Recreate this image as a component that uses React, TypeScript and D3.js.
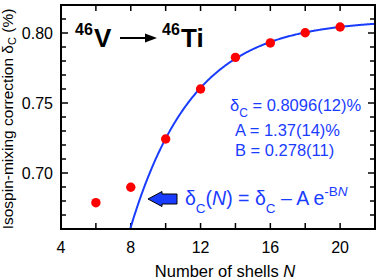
import React from "react";
import * as d3 from "d3";

const shells = [6, 8, 10, 12, 14, 16, 18, 20];
const deltaC = [0.6788, 0.6898, 0.7243, 0.76, 0.7826, 0.7929, 0.8002, 0.8043];
const xTickLabels = [4, 8, 12, 16, 20];
const xTicks = [4, 6, 8, 10, 12, 14, 16, 18, 20, 22];
const yTickLabels = [0.7, 0.75, 0.8];
const yTicks = [0.67, 0.68, 0.69, 0.7, 0.71, 0.72, 0.73, 0.74, 0.75, 0.76, 0.77, 0.78, 0.79, 0.8, 0.81];
const fitDelta = 0.8096;
const fitA = 1.37;
const fitB = 0.278;

const W = 377, H = 278;
const M = { left: 61, top: 5, right: 375, bottom: 229 };
const BLUE = "#1a3cff";
const FONT = "'Liberation Sans', Arial, Helvetica, sans-serif";

export default function App() {
  const x = d3.scaleLinear().domain([4, 22]).range([M.left, M.right]);
  const y = d3.scaleLinear().domain([0.66, 0.82]).range([M.bottom, M.top]);
  const fitX = d3.range(7.9, 22.001, 0.05);
  const line = d3
    .line<number>()
    .x((n) => x(n))
    .y((n) => y(fitDelta - fitA * Math.exp(-fitB * n)));

  return (
    <svg width={W} height={H} style={{ position: "absolute", left: 0, top: 0 }} fontFamily={FONT}>
      <rect x={0} y={0} width={W} height={H} fill="white" />
      <defs>
        <clipPath id="plot">
          <rect x={M.left} y={M.top} width={M.right - M.left} height={M.bottom - M.top} />
        </clipPath>
      </defs>
      {/* ticks */}
      {xTicks.map((t) => (
        <g key={"xt" + t}>
          <line x1={x(t)} x2={x(t)} y1={M.bottom} y2={M.bottom - 6} stroke="black" strokeWidth={1.5} />
          <line x1={x(t)} x2={x(t)} y1={M.top} y2={M.top + 6} stroke="black" strokeWidth={1.5} />
        </g>
      ))}
      {yTicks.map((t) => {
        const major = yTickLabels.some((v) => Math.abs(v - t) < 1e-6);
        const len = major ? 7 : 5;
        return (
          <g key={"yt" + t}>
            <line x1={M.left} x2={M.left + len} y1={y(t)} y2={y(t)} stroke="black" strokeWidth={1.5} />
            <line x1={M.right} x2={M.right - len} y1={y(t)} y2={y(t)} stroke="black" strokeWidth={1.5} />
          </g>
        );
      })}
      {xTickLabels.map((t) => (
        <text key={"xl" + t} x={x(t)} y={252.5} textAnchor="middle" fontSize={16}>
          {t}
        </text>
      ))}
      {yTickLabels.map((t) => (
        <text key={"yl" + t} x={53} y={y(t) + 5.5} textAnchor="end" fontSize={16}>
          {t.toFixed(2)}
        </text>
      ))}
      {/* fit curve */}
      <path d={line(fitX) || ""} fill="none" stroke={BLUE} strokeWidth={2} clipPath="url(#plot)" />
      {/* data */}
      {shells.map((n, i) => (
        <circle key={"p" + n} cx={x(n)} cy={y(deltaC[i])} r={4.7} fill="#ff0000" />
      ))}
      {/* frame */}
      <rect x={M.left} y={M.top} width={M.right - M.left} height={M.bottom - M.top} fill="none" stroke="black" strokeWidth={2} />

      {/* header */}
      <text fontWeight="bold" fill="black">
        <tspan x={75} y={35} fontSize={16}>46</tspan>
        <tspan x={94} y={47} fontSize={26}>V</tspan>
        <tspan x={162} y={35} fontSize={16}>46</tspan>
        <tspan x={181} y={47} fontSize={26}>Ti</tspan>
      </text>
      <line x1={120} x2={147} y1={38} y2={38} stroke="black" strokeWidth={2} />
      <path d="M145,33.5 L157,38 L145,42.5 Z" fill="black" />

      {/* parameters */}
      <text fill={BLUE} fontSize={16.5}>
        <tspan x={230} y={111}>δ</tspan>
        <tspan fontSize={12} dy={6}>C</tspan>
        <tspan dy={-6}> = 0.8096(12)%</tspan>
      </text>
      <text fill={BLUE} fontSize={16.5} x={235} y={136}>A = 1.37(14)%</text>
      <text fill={BLUE} fontSize={16.5} x={235} y={156}>B = 0.278(11)</text>

      {/* arrow */}
      <path d="M148,199 L162,191.5 L162,194 L177,194 L177,204 L162,204 L162,206.5 Z" fill={BLUE} stroke="black" strokeWidth={1} />

      {/* formula */}
      <text fill={BLUE} fontSize={19.5}>
        <tspan x={185} y={205}>δ</tspan>
        <tspan fontSize={13.5} dy={8}>C</tspan>
        <tspan dy={-8}>(</tspan>
        <tspan fontStyle="italic">N</tspan>
        <tspan>) = δ</tspan>
        <tspan fontSize={13.5} dy={8}>C</tspan>
        <tspan dy={-8}> – A e</tspan>
        <tspan fontSize={13.5} dy={-9}>-B</tspan>
        <tspan fontSize={13.5} fontStyle="italic">N</tspan>
      </text>

      {/* axis labels */}
      <text x={225} y={276.5} textAnchor="middle" fontSize={16.5}>
        Number of shells <tspan fontStyle="italic">N</tspan>
      </text>
      <text transform={`translate(13,${(M.top + M.bottom) / 2 + 2}) rotate(-90)`} textAnchor="middle" fontSize={15.5}>
        Isospin-mixing correction δ<tspan fontSize={11} dy={3}>C</tspan><tspan dy={-3}> (%)</tspan>
      </text>
    </svg>
  );
}
